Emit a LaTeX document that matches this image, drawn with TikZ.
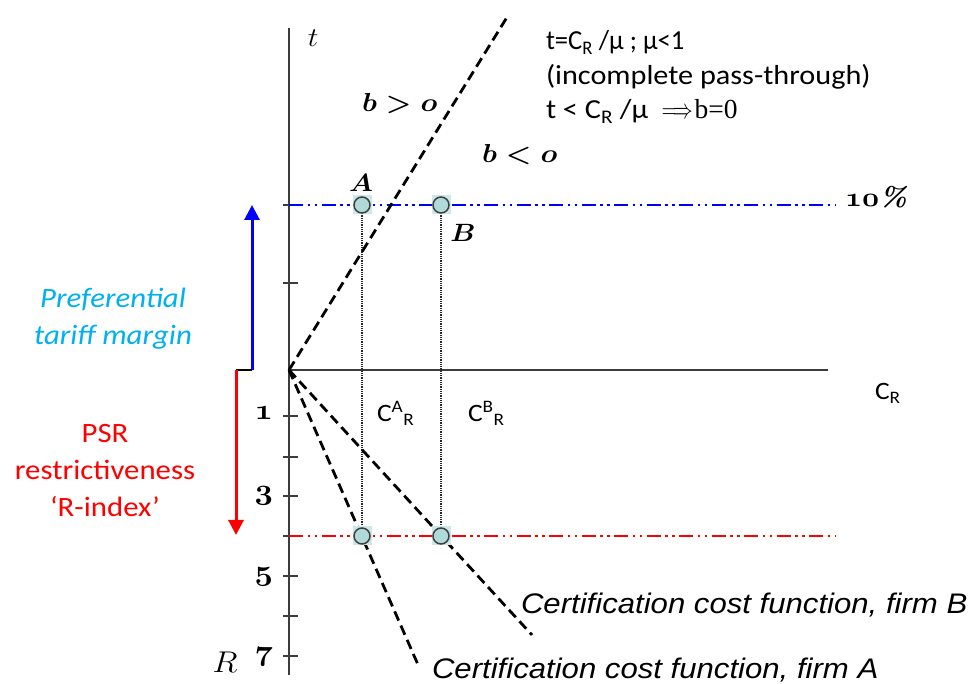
\RequirePackage{fix-cm}
\documentclass[tikz,border=0pt]{standalone}
\usepackage[no-math]{fontspec}
\newfontfamily\calib[FakeStretch=1.1]{Carlito}
\newfontfamily\arialf[FakeStretch=1.1]{Liberation Sans}
\newfontfamily\timesf{Liberation Serif}
\usetikzlibrary{arrows.meta}
\definecolor{ptfill}{RGB}{176,218,218}
\definecolor{ptbg}{RGB}{204,232,232}
\definecolor{prefblue}{RGB}{0,176,240}
\definecolor{axgray}{RGB}{60,60,60}
\definecolor{lineblue}{RGB}{0,0,255}
\definecolor{linered}{RGB}{255,0,0}
\newcommand\stretchx[1]{\scalebox{1.1}[1]{#1}}
\newcommand\osn[1]{{\boldmath$\mathnormal{#1}$}}
\pgfdeclarelayer{bg}
\pgfsetlayers{bg,main}
\begin{document}
\begin{tikzpicture}[x=1pt,y=-1pt,
  axisln/.style={line width=1.3pt, axgray},
  costln/.style={line width=2.8pt, dash pattern=on 10pt off 5.5pt},
  rateln/.style={line width=2.9pt, dash pattern=on 14pt off 4.5pt on 2.5pt off 4.5pt on 2.5pt off 4.5pt},
  dropln/.style={line width=2.5pt, black!85, dash pattern=on 1pt off 0.8pt},
  ptnode/.style={rectangle, fill=ptbg, minimum size=19pt, inner sep=0pt,
    path picture={\draw[line width=1.5pt, black!75, fill=ptfill] (path picture bounding box.center) circle (8pt);}},
  lbl/.style={inner sep=0pt, outer sep=0pt},
  eqline/.style={lbl, anchor=base west, text height=19pt, text depth=5pt, font=\calib\fontsize{27.5}{32}\selectfont},
  bigarrow/.style={line width=3pt, -{Triangle[length=15pt,width=15pt]}},
]
\useasboundingbox (0,0) rectangle (978,684);

% coordinates
\coordinate (O) at (289,370);
\coordinate (tTop) at (289,28);
\coordinate (RBot) at (289,675);
\coordinate (CEnd) at (828,370);
\coordinate (bEnd) at (509,14);
\coordinate (fAEnd) at (419,667);
\coordinate (fBEnd) at (532,635);
\coordinate (blueL) at (289,205);
\coordinate (blueR) at (835,205);
\coordinate (redL) at (289,536);
\coordinate (redR) at (835,536);
\coordinate (arrB0) at (252,370);
\coordinate (arrB1) at (252,205);
\coordinate (arrR0) at (236,370);
\coordinate (arrR1) at (236,535);

% points
\node[ptnode] (A) at (362,205) {};
\node[ptnode] (B) at (441,205) {};
\node[ptnode] (A2) at (362,536) {};
\node[ptnode] (B2) at (441,536) {};

\begin{pgfonlayer}{bg}
  \draw[axisln] (tTop) -- (RBot);
  \draw[axisln] (O) -- (CEnd);
  \foreach \yy in {205,283,416,457,496,536,576,616,656}
    \draw[axisln] (283,\yy) -- (298,\yy);
  \draw[rateln, lineblue] (blueL) -- (blueR);
  \draw[rateln, linered] (redL) -- (redR);
  \draw[dropln] (A) -- (A2);
  \draw[dropln] (B) -- (B2);
  \draw[costln] (O) -- (bEnd);
  \draw[costln] (O) -- (fAEnd);
  \draw[costln] (O) -- (fBEnd);
\end{pgfonlayer}

% left arrows
\draw[bigarrow, lineblue] (arrB0) -- (arrB1);
\draw[line width=1.5pt] (arrR0) -- (arrB0);
\draw[bigarrow, linered] (arrR0) -- (arrR1);

% math labels
\node[lbl, anchor=base, font=\fontsize{27}{30}\selectfont] (tlab) at (313,47) {\stretchx{$t$}};
\node[lbl, anchor=base west, font=\fontsize{26}{30}\selectfont] (bpos) at (362,112) {\stretchx{\boldmath$b>o$}};
\node[lbl, anchor=base west, font=\fontsize{26}{30}\selectfont] (bneg) at (482,163) {\stretchx{\boldmath$b<o$}};
\node[lbl, anchor=base, font=\fontsize{25}{30}\selectfont] (Alab) at (361,192) {\stretchx{\boldmath$A$}};
\node[lbl, anchor=base, font=\fontsize{25}{30}\selectfont] (Blab) at (463,242) {\stretchx{\boldmath$B$}};
\node[lbl, anchor=base west, font=\fontsize{27}{30}\selectfont] (pct) at (845,207) {\stretchx{\osn{10}\textbf{\textit{\%}}}};
\node[lbl, anchor=base east, font=\fontsize{29}{32}\selectfont] (n1) at (273,420) {\stretchx{\osn{1}}};
\node[lbl, anchor=base east, font=\fontsize{29}{32}\selectfont] (n3) at (273,500) {\stretchx{\osn{3}}};
\node[lbl, anchor=base east, font=\fontsize{29}{32}\selectfont] (n5) at (273,580) {\stretchx{\osn{5}}};
\node[lbl, anchor=base east, font=\fontsize{29}{32}\selectfont] (n7) at (273,660) {\stretchx{\osn{7}}};
\node[lbl, anchor=base, font=\fontsize{30}{34}\selectfont] (Rlab) at (225,672) {\stretchx{$R$}};

% C labels
\node[lbl, anchor=base west, font=\calib\fontsize{25}{28}\selectfont] (CR) at (875,400) {C\textsubscript{R}};
\node[lbl, anchor=base west, font=\calib\fontsize{25}{28}\selectfont] (CAR) at (377,422) {C\textsuperscript{A}\textsubscript{R}};
\node[lbl, anchor=base west, font=\calib\fontsize{25}{28}\selectfont] (CBR) at (468,422) {C\textsuperscript{B}\textsubscript{R}};

% top-right text
\node[eqline] (eq1) at (546,50) {\scalebox{0.88}[1]{t=C\textsubscript{R} /μ ; μ<1}};
\node[eqline] (eq2) at (546,85) {(incomplete pass-through)};
\node[eqline] (eq3) at (546,119) {t < C\textsubscript{R} /μ~~\smash{\scalebox{0.72}[1]{$\Longrightarrow$}}\kern2pt{\timesf b=0}};

% left text
\node[lbl, anchor=base, text=prefblue, font=\calib\itshape\fontsize{28}{32}\selectfont] (pref1) at (113,308) {Preferential};
\node[lbl, anchor=base, text=prefblue, font=\calib\itshape\fontsize{28}{32}\selectfont] (pref2) at (113,345) {tariff margin};
\node[lbl, anchor=base, text=linered, font=\calib\fontsize{28}{32}\selectfont] (psr1) at (105,443) {PSR};
\node[lbl, anchor=base, text=linered, font=\calib\fontsize{28}{32}\selectfont] (psr2) at (105,480) {restrictiveness};
\node[lbl, anchor=base, text=linered, font=\calib\fontsize{28}{32}\selectfont] (psr3) at (105,517) {‘R-index’};

% certification labels
\node[lbl, anchor=base west, font=\arialf\itshape\fontsize{28.3}{32}\selectfont] (certB) at (521,613) {Certification cost function, firm B};
\node[lbl, anchor=base west, font=\arialf\itshape\fontsize{28.3}{32}\selectfont] (certA) at (432,678) {Certification cost function, firm A};
\end{tikzpicture}
\end{document}
